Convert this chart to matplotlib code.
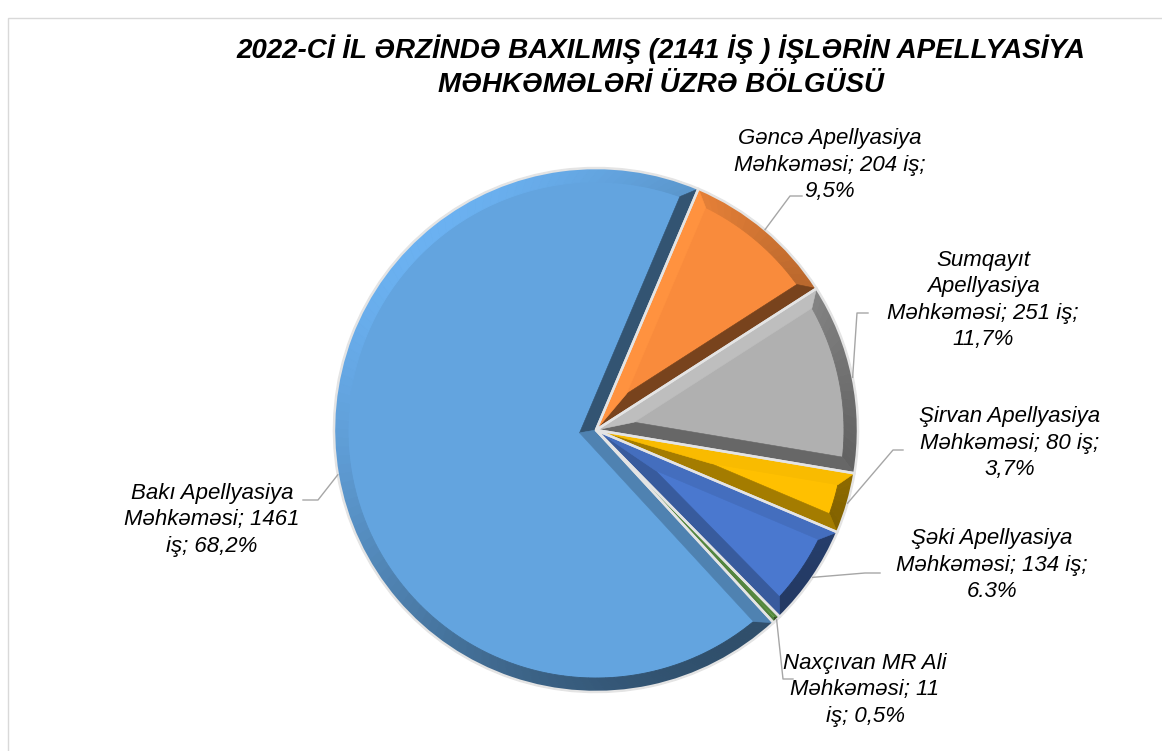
import numpy as np
import matplotlib
matplotlib.use("Agg")
import matplotlib.pyplot as plt
from matplotlib.patches import Polygon, Rectangle, Wedge
from matplotlib.colors import to_rgb

# data
title = "2022-Cİ İL ƏRZİNDƏ BAXILMIŞ (2141 İŞ ) İŞLƏRİN APELLYASİYA\nMƏHKƏMƏLƏRİ ÜZRƏ BÖLGÜSÜ"
courts = ["Gəncə", "Sumqayıt", "Şirvan", "Şəki", "Naxçıvan", "Bakı"]
cases = [204, 251, 80, 134, 11, 1461]
percents = ["9,5%", "11,7%", "3,7%", "6.3%", "0,5%", "68,2%"]
label_texts = [
    "Gəncə Apellyasiya\nMəhkəməsi; 204 iş;\n9,5%",
    "Sumqayıt\nApellyasiya\nMəhkəməsi; 251 iş;\n11,7%",
    "Şirvan Apellyasiya\nMəhkəməsi; 80 iş;\n3,7%",
    "Şəki Apellyasiya\nMəhkəməsi; 134 iş;\n6.3%",
    "Naxçıvan MR Ali\nMəhkəməsi; 11\niş; 0,5%",
    "Bakı Apellyasiya\nMəhkəməsi; 1461\niş; 68,2%",
]
colors = ["#f98b3c", "#b0b0b0", "#ffc000", "#4a78cf", "#6aa84f", "#63a4df"]

# layout (pixels, y from top)
W, H = 1162, 751
explode = [0.015, 0, 0, 0, 0, 0.03]
label_pos = [(830, 165), (983, 300), (1010, 443), (992, 565), (865, 690), (212, 520)]
leader_start = [(802, 196), (868, 313), (903, 450), (880, 573), (793, 679), (303, 500)]
leader_elbow = [(790, 196), (857, 313), (893, 450), (865, 573), (783, 679), (318, 500)]
FONT = ["Liberation Sans", "DejaVu Sans"]


def px(x, y):
    return x, H - y


def shade(base, phi):
    f = 0.78 + 0.3 * np.cos(np.radians(phi - 130))
    return tuple(np.clip(np.array(to_rgb(base)) * f, 0, 1))


def bevel(ax, w, base, bw=14):
    c = np.array(w.center)
    r = w.r
    t1, t2 = np.radians(w.theta1), np.radians(w.theta2)
    alpha = (t2 - t1) / 2
    if alpha < np.pi / 2:
        bw = min(bw, 0.8 * r * np.sin(alpha))
    u = lambda t: np.array([np.cos(t), np.sin(t)])
    n1 = np.array([-np.sin(t1), np.cos(t1)])
    n2 = np.array([np.sin(t2), -np.cos(t2)])
    p0 = c + bw / np.sin(alpha) * u(t1 + alpha)
    s = np.sqrt((r - bw) ** 2 - bw ** 2)
    a1 = c + bw * n1 + s * u(t1)
    a2 = c + bw * n2 + s * u(t2)
    o1 = c + r * u(t1)
    o2 = c + r * u(t2)
    # arc band
    phi1 = t1 + np.arctan2(bw, s)
    phi2 = t2 - np.arctan2(bw, s)
    n = max(2, int(np.degrees(t2 - t1) / 2))
    outer = np.linspace(t1, t2, n + 1)
    inner = np.linspace(phi1, phi2, n + 1)
    for i in range(n):
        col = shade(base, np.degrees((outer[i] + outer[i + 1]) / 2))
        pts = [c + r * u(outer[i]), c + r * u(outer[i + 1]),
               c + (r - bw) * u(inner[i + 1]), c + (r - bw) * u(inner[i])]
        ax.add_patch(Polygon(pts, closed=True, fc=col, ec=col, lw=0.6, zorder=3))
    # radial bands
    col1 = shade(base, np.degrees(t1) - 90)
    col2 = shade(base, np.degrees(t2) + 90)
    ax.add_patch(Polygon([c, o1, a1, p0], closed=True, fc=col1, ec=col1, lw=0.4, zorder=4))
    ax.add_patch(Polygon([c, p0, a2, o2], closed=True, fc=col2, ec=col2, lw=0.4, zorder=4))
    ax.add_patch(Wedge(tuple(c), r, w.theta1, w.theta2, fill=False,
                       ec="#e4e4e4", lw=1.8, zorder=5))


def main():
    fig = plt.figure(figsize=(W / 100, H / 100), dpi=100)
    ax = fig.add_axes([0, 0, 1, 1])

    wedges, _ = ax.pie(cases, colors=colors, startangle=67, counterclock=False,
                       explode=explode, radius=262, center=px(596, 430),
                       wedgeprops=dict(linewidth=0, zorder=2))
    ax.set_xlim(0, W)
    ax.set_ylim(0, H)
    ax.set_aspect("equal", adjustable="box")
    ax.axis("off")

    for w, col in zip(wedges, colors):
        bevel(ax, w, col)

    for i, w in enumerate(wedges):
        mid = np.radians((w.theta1 + w.theta2) / 2)
        cx, cy = w.center
        end = (cx + w.r * np.cos(mid), cy + w.r * np.sin(mid))
        xs = [px(*leader_start[i])[0], px(*leader_elbow[i])[0], end[0]]
        ys = [px(*leader_start[i])[1], px(*leader_elbow[i])[1], end[1]]
        ax.plot(xs, ys, color="#a6a6a6", lw=1, zorder=6)
        ax.text(*px(*label_pos[i]), label_texts[i], ha="center", va="center",
                fontsize=16, style="italic", family=FONT, linespacing=1.35,
                color="#000000", zorder=7)

    ax.text(*px(661, 66), title, ha="center", va="center", fontsize=20,
            fontweight="bold", style="italic", family=FONT, linespacing=1.4)

    ax.add_patch(Rectangle(px(8, 760), 1170, 742, fill=False, ec="#d9d9d9", lw=1,
                           zorder=1))

    fig.savefig("out.png", dpi=100)


if __name__ == '__main__':
    main()
